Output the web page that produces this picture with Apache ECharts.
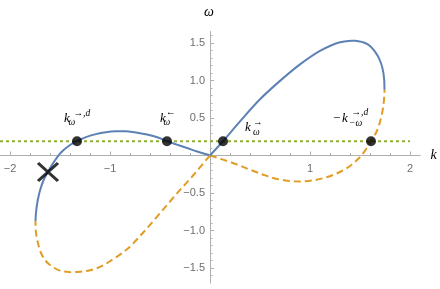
<!DOCTYPE html>
<html><head><meta charset="utf-8">
<script src="https://cdn.jsdelivr.net/npm/echarts@6/dist/echarts.min.js"></script>
<style>html,body{margin:0;padding:0;background:#fff}#c{width:440px;height:289px}</style>
</head><body><div id="c"></div>
<script>
// ---- data ----
const blueLeftK  = [-1.745,-1.735,-1.705,-1.665,-1.62,-1.555,-1.49,-1.41,-1.33,-1.24,-1.14,-1.04,-0.94,-0.84,-0.74,-0.63,-0.52,-0.43,-0.33,-0.23,-0.12,0];
const blueLeftW  = [-0.875,-0.7,-0.49,-0.33,-0.215,-0.075,0.04,0.13,0.195,0.245,0.285,0.31,0.322,0.322,0.308,0.28,0.24,0.19,0.145,0.10,0.05,0];
const blueRightK = [0,0.13,0.3,0.5,0.7,0.9,1.1,1.3,1.45,1.57,1.65,1.705,1.735,1.745];
const blueRightW = [0,0.19,0.455,0.75,0.995,1.215,1.395,1.51,1.53,1.487,1.384,1.25,1.096,0.875];
const orangeRightK = [1.745,1.732,1.705,1.665,1.61,1.555,1.488,1.42,1.34,1.24,1.14,1.04,0.94,0.84,0.74,0.63,0.52,0.4,0.27,0.13,0];
const orangeRightW = [0.875,0.65,0.473,0.317,0.195,0.073,-0.037,-0.12,-0.19,-0.255,-0.30,-0.33,-0.345,-0.345,-0.33,-0.30,-0.25,-0.19,-0.12,-0.055,0];
const orangeLeftK = [0,-0.165,-0.33,-0.5,-0.67,-0.83,-1.0,-1.1,-1.2,-1.3,-1.4,-1.5,-1.58,-1.64,-1.69,-1.72,-1.74,-1.745];
const orangeLeftW = [0,-0.26,-0.505,-0.77,-1.03,-1.25,-1.41,-1.485,-1.53,-1.55,-1.555,-1.535,-1.48,-1.41,-1.3,-1.17,-1.03,-0.875];
const levelK = [-2.1, 2.0];
const levelW = [0.19, 0.19];
const markK = [-1.33, -0.43, 0.13, 1.61];
const markW = [0.19, 0.19, 0.19, 0.19];
const crossK = [-1.62];
const crossW = [-0.22];
const xTicks = [-2, -1, 1, 2];
const xMinorTicks = [-2,-1.8,-1.6,-1.4,-1.2,-1,-0.8,-0.6,-0.4,-0.2,0.2,0.4,0.6,0.8,1,1.2,1.4,1.6,1.8,2];
const yTicks = [-1.5, -1, -0.5, 0.5, 1, 1.5];
const yMinorTicks = [-1.6,-1.5,-1.4,-1.3,-1.2,-1.1,-1,-0.9,-0.8,-0.7,-0.6,-0.5,-0.4,-0.3,-0.2,-0.1,0.1,0.2,0.3,0.4,0.5,0.6,0.7,0.8,0.9,1,1.1,1.2,1.3,1.4,1.5,1.6];
const axisNameX = 'k';
const axisNameY = 'ω';
// label pieces for each marked point: [text, dx, dy, fontSize, italic]
const markLabels = [
  [['k',-13,-22.3,13,true],['ω',-8.5,-19,9.5,true],['→,d',-3.5,-28,9.5,true]],
  [['k',-7,-22.3,13,true],['ω',-3.5,-19,9.5,true],['←',-1,-28.5,9.5,false]],
  [['k',22,-13.3,13,true],['ω',30,-9,9.5,true],['→',30,-18.5,9.5,false]],
  [['−',-38,-23,13,false],['k',-29,-23,13,true],['→,d',-19.5,-28.5,9.5,true],['−ω',-22,-18,9.5,true]]
];

const zip = (a, b) => a.map((v, i) => [v, b[i]]);
const SERIF = "'Liberation Serif','DejaVu Serif',serif";
const SANS = "'Liberation Sans','DejaVu Sans',sans-serif";
const AX = '#b0b0b0', LBL = '#6e6e6e';
const BLUE = '#5e81b5', ORANGE = '#e19c24', GREEN = '#8fb032';
const minus = s => String(s).replace('-', '−');

// the closed curve, in drawing order (each piece continues into the next)
const pieces = [
  {pts: zip(blueLeftK, blueLeftW), color: BLUE, dash: null},
  {pts: zip(orangeRightK, orangeRightW).reverse(), color: ORANGE, dash: [7, 4]},
  {pts: zip(blueRightK, blueRightW).reverse(), color: BLUE, dash: null},
  {pts: zip(orangeLeftK, orangeLeftW), color: ORANGE, dash: [7, 4]}
];

// centripetal Catmull-Rom through pixel points, with neighbour ghosts for tangents
function crPath(P) {
  const a = 0.5, eps = 1e-9;
  let d = 'M' + P[1][0] + ',' + P[1][1];
  for (let i = 1; i < P.length - 2; i++) {
    const p0 = P[i - 1], p1 = P[i], p2 = P[i + 1], p3 = P[i + 2];
    const l01 = Math.hypot(p1[0] - p0[0], p1[1] - p0[1]);
    const l12 = Math.hypot(p2[0] - p1[0], p2[1] - p1[1]);
    const l23 = Math.hypot(p3[0] - p2[0], p3[1] - p2[1]);
    const l01a = Math.pow(l01, a), l12a = Math.pow(l12, a), l23a = Math.pow(l23, a);
    const l01_2a = l01a * l01a, l12_2a = l12a * l12a, l23_2a = l23a * l23a;
    let x1 = p1[0], y1 = p1[1], x2 = p2[0], y2 = p2[1];
    if (l01a > eps) {
      const A = 2 * l01_2a + 3 * l01a * l12a + l12_2a, n = 3 * l01a * (l01a + l12a);
      x1 = (p1[0] * A - p0[0] * l12_2a + p2[0] * l01_2a) / n;
      y1 = (p1[1] * A - p0[1] * l12_2a + p2[1] * l01_2a) / n;
    }
    if (l23a > eps) {
      const B = 2 * l23_2a + 3 * l23a * l12a + l12_2a, m = 3 * l23a * (l23a + l12a);
      x2 = (p2[0] * B + p1[0] * l23_2a - p3[0] * l12_2a) / m;
      y2 = (p2[1] * B + p1[1] * l23_2a - p3[1] * l12_2a) / m;
    }
    d += 'C' + x1 + ',' + y1 + ',' + x2 + ',' + y2 + ',' + p2[0] + ',' + p2[1];
  }
  return d;
}

const curveSeries = pieces.map((pc, idx) => {
  const prev = pieces[(idx + pieces.length - 1) % pieces.length].pts;
  const next = pieces[(idx + 1) % pieces.length].pts;
  const withGhosts = [prev[prev.length - 2]].concat(pc.pts, [next[1]]);
  return {
    type: 'custom', data: pc.pts, z: 3, silent: true, clip: false,
    encode: {x: 0, y: 1},
    renderItem: (params, api) => {
      if (params.dataIndex !== 0) return null;
      const P = withGhosts.map(p => api.coord(p));
      const style = {fill: null, stroke: pc.color, lineWidth: 2};
      if (pc.dash) style.lineDash = pc.dash;
      return {type: 'path', shape: {pathData: crPath(P)}, style};
    }
  };
});

const chart = echarts.init(document.getElementById('c'), null, {renderer: 'canvas'});
chart.setOption({
  animation: false,
  grid: {left: 0, right: 20, top: 31.75, bottom: 6, containLabel: false, outerBoundsMode: 'none'},
  xAxis: [
    {type: 'value', min: -2.1, max: 2.1, position: 'bottom',
     axisLine: {onZero: true, lineStyle: {color: AX, width: 1}},
     axisTick: {show: true, inside: true, length: 4, customValues: xTicks, lineStyle: {color: AX}},
     axisLabel: {show: false}, splitLine: {show: false}},
    {type: 'value', min: -2.1, max: 2.1, position: 'bottom',
     axisLine: {onZero: true, lineStyle: {color: AX, width: 1}},
     axisTick: {show: true, inside: true, length: 2.5, customValues: xMinorTicks, lineStyle: {color: AX}},
     axisLabel: {show: false}, splitLine: {show: false}}
  ],
  yAxis: [
    {type: 'value', min: -1.7, max: 1.65, position: 'left',
     axisLine: {onZero: true, lineStyle: {color: AX, width: 1}},
     axisTick: {show: true, inside: true, length: 4, customValues: yTicks, lineStyle: {color: AX}},
     axisLabel: {show: false}, splitLine: {show: false}},
    {type: 'value', min: -1.7, max: 1.65, position: 'left',
     axisLine: {onZero: true, lineStyle: {color: AX, width: 1}},
     axisTick: {show: true, inside: true, length: 2.5, customValues: yMinorTicks, lineStyle: {color: AX}},
     axisLabel: {show: false}, splitLine: {show: false}}
  ],
  series: [
    {type: 'line', data: zip(levelK, levelW), showSymbol: false, silent: true, z: 2,
     lineStyle: {color: GREEN, width: 2, type: [3, 3]}}
  ].concat(curveSeries, [
    {type: 'scatter', data: zip(markK, markW), symbol: 'circle', symbolSize: 10, silent: true, z: 5,
     itemStyle: {color: '#000'}},
    {type: 'scatter', data: zip(crossK, crossW), symbol: 'path://M0,0L20,18M20,0L0,18', symbolSize: [20, 18],
     silent: true, z: 6, itemStyle: {color: 'rgba(0,0,0,0)', borderColor: '#000', borderWidth: 3}}
  ])
});

// text: tick labels, point labels, axis names
const graphics = [];
xTicks.forEach(v => {
  const p = chart.convertToPixel({gridIndex: 0}, [v, 0]);
  graphics.push({type: 'text', x: p[0], y: p[1] + 13, silent: true,
    style: {text: minus(v), fill: LBL, font: '11px ' + SANS, align: 'center', verticalAlign: 'middle'}});
});
yTicks.forEach(v => {
  const p = chart.convertToPixel({gridIndex: 0}, [0, v]);
  graphics.push({type: 'text', x: p[0] - 5, y: p[1], silent: true,
    style: {text: minus(v.toFixed(1)), fill: LBL, font: '11px ' + SANS, align: 'right', verticalAlign: 'middle'}});
});
markK.forEach((k, i) => {
  const p = chart.convertToPixel({gridIndex: 0}, [k, markW[i]]);
  markLabels[i].forEach(([t, dx, dy, fs, it]) => {
    graphics.push({type: 'text', x: p[0] + dx, y: p[1] + dy, silent: true, z: 10,
      style: {text: t, fill: '#000', font: (it ? 'italic ' : '') + fs + 'px ' + SERIF,
              align: 'left', verticalAlign: 'middle'}});
  });
});
graphics.push({type: 'text', x: 209, y: 12, silent: true,
  style: {text: axisNameY, fill: '#000', font: 'italic 14px ' + SERIF, align: 'center', verticalAlign: 'middle'}});
graphics.push({type: 'text', x: 433.5, y: 155, silent: true,
  style: {text: axisNameX, fill: '#000', font: 'italic 14px ' + SERIF, align: 'center', verticalAlign: 'middle'}});
chart.setOption({graphic: graphics});
</script></body></html>
